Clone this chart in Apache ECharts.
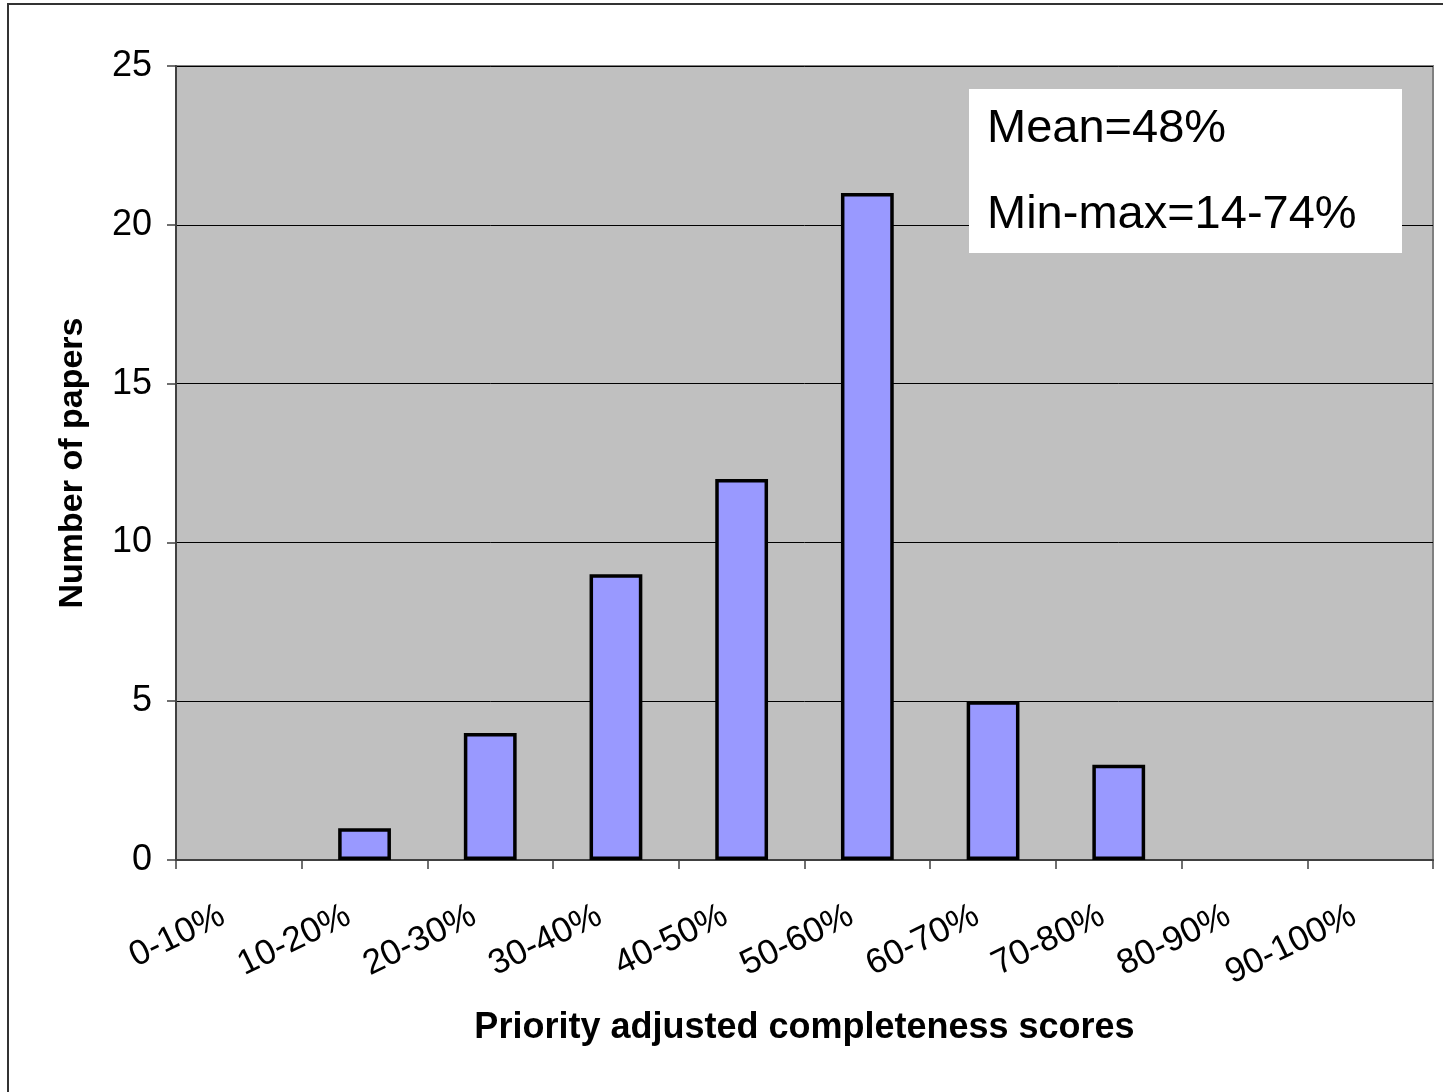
<!DOCTYPE html>
<html>
<head>
<meta charset="utf-8">
<script src="https://cdn.jsdelivr.net/npm/echarts@6/dist/echarts.min.js"></script>
<style>
html,body{margin:0;padding:0;background:#fff;}
#chart{width:1443px;height:1092px;}
</style>
</head>
<body>
<div id="chart"></div>
<script>
const categories = ['0-10%','10-20%','20-30%','30-40%','40-50%','50-60%','60-70%','70-80%','80-90%','90-100%'];
const paperCounts = [0, 1, 4, 9, 12, 21, 5, 3, 0, 0];
const yTicks = [0, 5, 10, 15, 20, 25];
const xTitle = 'Priority adjusted completeness scores';
const yTitle = 'Number of papers';
const noteLines = ['Mean=48%', 'Min-max=14-74%'];

const FONT = '"Liberation Sans", Arial, sans-serif';
const barData = paperCounts.map(v => v === 0 ? {value: v, itemStyle: {borderWidth: 0}} : v);

const chart = echarts.init(document.getElementById('chart'), null, {renderer: 'canvas'});
chart.setOption({
  animation: false,
  backgroundColor: '#ffffff',
  grid: {
    left: 176, right: 10, top: 66, bottom: 232,
    show: true, backgroundColor: '#C0C0C0', borderColor: '#808080', borderWidth: 2
  },
  xAxis: {
    type: 'category',
    data: categories,
    boundaryGap: true,
    name: xTitle,
    nameLocation: 'middle',
    nameGap: 150,
    nameTextStyle: {fontFamily: FONT, fontWeight: 'bold', fontSize: 36, color: '#000'},
    axisLine: {show: true, lineStyle: {color: '#404040', width: 2}},
    axisTick: {show: true, alignWithLabel: false, length: 9, lineStyle: {color: '#404040', width: 1.5}},
    axisLabel: {
      interval: 0, rotate: 26, margin: 46,
      fontFamily: FONT, fontSize: 35, color: '#000',
      padding: [0, 18, 0, 0]
    },
    splitLine: {show: false}
  },
  yAxis: {
    type: 'value',
    min: yTicks[0], max: yTicks[yTicks.length - 1], interval: 5,
    name: yTitle,
    nameLocation: 'middle',
    nameRotate: 90,
    nameGap: 86,
    nameTextStyle: {fontFamily: FONT, fontWeight: 'bold', fontSize: 34, color: '#000'},
    axisLine: {show: true, lineStyle: {color: '#404040', width: 2}},
    axisTick: {show: true, length: 9, lineStyle: {color: '#404040', width: 1.5}},
    axisLabel: {margin: 24, fontFamily: FONT, fontSize: 36, color: '#000'},
    splitLine: {show: true, lineStyle: {color: '#000', width: 1}}
  },
  series: [{
    type: 'bar',
    data: barData,
    barWidth: '42%',
    itemStyle: {color: '#9999FF', borderColor: '#000', borderWidth: 3.5}
  }],
  graphic: [
    {
      type: 'polyline', silent: true, z: 100,
      shape: {points: [[8, 1092], [8, 4], [1443, 4]]},
      style: {stroke: '#333', lineWidth: 2, fill: null}
    },
    {
      type: 'rect', z: 50, left: 969, top: 89,
      shape: {width: 433, height: 164},
      style: {fill: '#ffffff'}
    },
    {
      type: 'text', z: 51, x: 987, y: 129.5,
      style: {text: noteLines[0], font: '47px ' + FONT, fill: '#000', textVerticalAlign: 'middle', verticalAlign: 'middle'}
    },
    {
      type: 'text', z: 51, x: 987, y: 215.5,
      style: {text: noteLines[1], font: '47px ' + FONT, fill: '#000', textVerticalAlign: 'middle', verticalAlign: 'middle'}
    }
  ]
});
</script>
</body>
</html>
